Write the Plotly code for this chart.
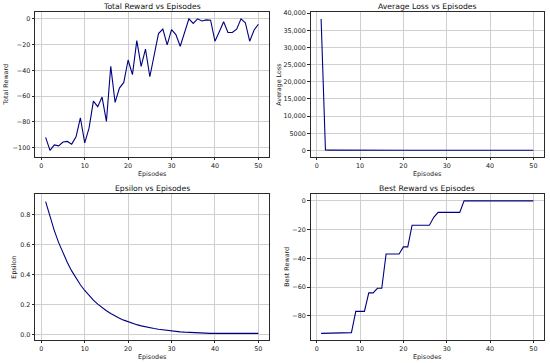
import plotly.graph_objects as go

episodes = list(range(1, 51))

total_reward = [-92.2, -102.3, -98.0, -98.7, -95.8, -95.3, -97.4, -91.7, -76.9, -96.4,
                -85.0, -64.0, -68.3, -60.8, -79.7, -36.9, -65.0, -53.8, -49.4, -32.0,
                -43.4, -16.9, -37.0, -23.6, -45.0, -26.8, -11.4, -8.0, -20.3, -8.3,
                -12.2, -21.3, -9.9, 0.0, -3.6, 0.0, -1.6, -0.8, -1.0, -17.4,
                -10.0, -2.3, -10.6, -10.6, -8.0, 0.0, -3.0, -17.4, -8.8, -4.2]

average_loss = [38300, 120, 95, 80, 70, 65, 60, 58, 55, 52,
                50, 48, 47, 45, 44, 43, 42, 41, 40, 40,
                39, 38, 38, 37, 37, 36, 36, 35, 35, 35,
                34, 34, 34, 33, 33, 33, 33, 32, 32, 32,
                32, 31, 31, 31, 31, 31, 30, 30, 30, 30]

epsilon = [0.885, 0.783, 0.693, 0.613, 0.543, 0.481, 0.425, 0.376, 0.333, 0.295,
           0.261, 0.231, 0.204, 0.181, 0.160, 0.142, 0.125, 0.111, 0.098, 0.087,
           0.077, 0.068, 0.060, 0.053, 0.047, 0.042, 0.037, 0.033, 0.029, 0.026,
           0.023, 0.020, 0.018, 0.016, 0.014, 0.012, 0.011, 0.010, 0.010, 0.010,
           0.010, 0.010, 0.010, 0.010, 0.010, 0.010, 0.010, 0.010, 0.010, 0.010]

best_reward = [-92.2, -92.2, -92.2, -92.2, -92.2, -92.2, -92.2, -91.7, -76.9, -76.9,
               -76.9, -64.0, -64.0, -60.8, -60.8, -36.9, -36.9, -36.9, -36.9, -32.0,
               -32.0, -16.9, -16.9, -16.9, -16.9, -16.9, -11.4, -8.0, -8.0, -8.0,
               -8.0, -8.0, -8.0, 0.0, 0.0, 0.0, 0.0, 0.0, 0.0, 0.0,
               0.0, 0.0, 0.0, 0.0, 0.0, 0.0, 0.0, 0.0, 0.0, 0.0]

titles = ["Total Reward vs Episodes", "Average Loss vs Episodes",
          "Epsilon vs Episodes", "Best Reward vs Episodes"]
ylabels = ["Total Reward", "Average Loss", "Epsilon", "Best Reward"]
xlabel = "Episodes"

x_ticks = [0, 10, 20, 30, 40, 50]
reward_ticks = [-100, -80, -60, -40, -20, 0]
loss_ticks = [0, 5000, 10000, 15000, 20000, 25000, 30000, 35000, 40000]
loss_ticklabels = ["0", "5000", "10,000", "15,000", "20,000", "25,000", "30,000", "35,000", "40,000"]
eps_ticks = [0.0, 0.2, 0.4, 0.6, 0.8]
best_ticks = [-80, -60, -40, -20, 0]

W, H = 550, 363
# panel boxes in pixels: (left, right, top, bottom)
boxes = [(35, 269, 12.3, 157), (310.5, 544, 12.3, 157),
         (35, 269, 194.3, 340), (310.5, 544, 194.3, 340)]

series = [total_reward, average_loss, epsilon, best_reward]
yranges = [[-107.4, 5.1], [-1916, 40246], [-0.034, 0.934], [-96.8, 4.6]]

FONT = "DejaVu Sans"
LINE = "#000080"
TICK_SIZE = 6.4
LABEL_SIZE = 6.4
TITLE_SIZE = 7.7

fig = go.Figure()
layout = dict(width=W, height=H, margin=dict(l=0, r=0, t=0, b=0, autoexpand=False),
              paper_bgcolor="white", plot_bgcolor="white", showlegend=False,
              font=dict(family=FONT, size=TICK_SIZE, color="#1a1a1a"))
annotations = []

axis_common = dict(showline=True, mirror=True, linecolor="#2a2a2a", linewidth=0.8,
                   showgrid=True, gridcolor="#cfcfcf", gridwidth=0.7, zeroline=False,
                   ticks="outside", ticklen=2.5, tickwidth=0.8, tickcolor="#2a2a2a",
                   automargin=False,
                   tickfont=dict(family=FONT, size=TICK_SIZE, color="#1a1a1a"))

for i in range(4):
    l, r, t, b = boxes[i]
    xa = "xaxis" if i == 0 else f"xaxis{i+1}"
    ya = "yaxis" if i == 0 else f"yaxis{i+1}"
    xs = "x" if i == 0 else f"x{i+1}"
    ys = "y" if i == 0 else f"y{i+1}"
    fig.add_trace(go.Scatter(x=episodes, y=series[i], mode="lines",
                             line=dict(color=LINE, width=1.1),
                             xaxis=xs, yaxis=ys))
    layout[xa] = dict(axis_common, domain=[l / W, r / W], anchor=ys,
                      range=[-1.45, 52.45], tickmode="array", tickvals=x_ticks)
    yax = dict(axis_common, domain=[1 - b / H, 1 - t / H], anchor=xs,
               range=yranges[i], tickmode="array")
    if i == 0:
        yax["tickvals"] = reward_ticks
        yax["ticktext"] = ["\u2212100", "\u221280", "\u221260", "\u221240", "\u221220", "0"]
    elif i == 1:
        yax["tickvals"] = loss_ticks
        yax["ticktext"] = loss_ticklabels
    elif i == 2:
        yax["tickvals"] = eps_ticks
        yax["ticktext"] = ["0.0", "0.2", "0.4", "0.6", "0.8"]
    else:
        yax["tickvals"] = best_ticks
        yax["ticktext"] = ["\u221280", "\u221260", "\u221240", "\u221220", "0"]
    layout[ya] = yax

    # title
    annotations.append(dict(text=titles[i], x=(l + r) / 2 / W, y=1 - (t - 6.3) / H,
                            xref="paper", yref="paper", showarrow=False,
                            xanchor="center", yanchor="middle",
                            font=dict(family=FONT, size=TITLE_SIZE, color="#111")))
    # x label
    annotations.append(dict(text=xlabel, x=(l + r) / 2 / W, y=1 - (b + 16.5) / H,
                            xref="paper", yref="paper", showarrow=False,
                            xanchor="center", yanchor="middle",
                            font=dict(family=FONT, size=LABEL_SIZE, color="#1a1a1a")))

ylabel_x = [6, 279, 14.5, 286.7]
for i in range(4):
    l, r, t, b = boxes[i]
    annotations.append(dict(text=ylabels[i], x=ylabel_x[i] / W, y=1 - (t + b) / 2 / H,
                            xref="paper", yref="paper", showarrow=False, textangle=-90,
                            xanchor="center", yanchor="middle",
                            font=dict(family=FONT, size=LABEL_SIZE, color="#1a1a1a")))

layout["annotations"] = annotations
fig.update_layout(**layout)
fig.write_html("out.html", config={"displayModeBar": False},
               post_script="document.body.style.margin='0';document.body.style.overflow='hidden';")
